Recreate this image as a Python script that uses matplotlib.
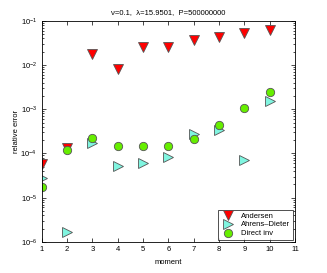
import numpy as np
import matplotlib
matplotlib.use('Agg')
import matplotlib.pyplot as plt
from matplotlib.ticker import LogLocator

plt.rcParams['font.family'] = ['Liberation Sans', 'DejaVu Sans']
plt.rcParams['mathtext.fontset'] = 'custom'
plt.rcParams['mathtext.rm'] = 'Liberation Sans'

# ==========================
# Datos
# ==========================
momento = [1, 2, 3, 4, 5, 6, 7, 8, 9, 10]
andersen = [5.8e-5, 1.3e-4, 1.8e-2, 8.3e-3, 2.5e-2, 2.6e-2, 3.7e-2, 4.4e-2, 5.4e-2, 6.3e-2]
ahrens_dieter = [2.8e-5, 1.7e-6, 1.7e-4, 5.1e-5, 6.0e-5, 8.2e-5, 2.7e-4, 3.3e-4, 7.0e-5, 1.5e-3]
direct_inv = [1.7e-5, 1.2e-4, 2.2e-4, 1.45e-4, 1.45e-4, 1.45e-4, 2.1e-4, 4.5e-4, 1.05e-3, 2.4e-3]

fig = plt.figure(figsize=(3.27, 2.73), dpi=100)
ax = fig.add_axes([0.128, 0.114, 0.774, 0.81])

ax.semilogy(momento, andersen, 'v', color='red', markeredgecolor='#555555',
            markeredgewidth=0.6, markersize=6.5, label='Andersen')
ax.semilogy(momento, ahrens_dieter, '>', color='#80f5e0', markeredgecolor='#555555',
            markeredgewidth=0.6, markersize=6.5, label='Ahrens\u2013Dieter')
ax.semilogy(momento, direct_inv, 'o', color='#66ee00', markeredgecolor='#555555',
            markeredgewidth=0.6, markersize=6, label='Direct inv')

ax.set_xlim(1, 11)
ax.set_ylim(1e-6, 1e-1)
ax.set_xticks(range(1, 12))
ax.yaxis.set_minor_locator(LogLocator(base=10, subs=np.arange(2, 10), numticks=20))
ax.tick_params(which='both', direction='in', top=True, right=True, labelsize=5.5, width=0.5)
ax.tick_params(which='major', length=3)
ax.tick_params(which='minor', length=1.5)
ax.tick_params(axis='x', pad=3)
for s in ax.spines.values():
    s.set_linewidth(0.6)

ax.set_xlabel('moment', fontsize=5.5, labelpad=4)
ax.set_ylabel('relative error', fontsize=5.5, labelpad=0)
ax.set_title('\u03bd=0.1,  \u03bb=15.9501,  P=500000000', fontsize=5.5, pad=5)

leg = ax.legend(loc='lower right', fontsize=5.5, frameon=True, fancybox=False,
                edgecolor='black', borderaxespad=0.3, handletextpad=0.8,
                labelspacing=0.2, borderpad=0.3, handlelength=2)
leg.get_frame().set_linewidth(0.6)

fig.savefig('out.png', dpi=100)
